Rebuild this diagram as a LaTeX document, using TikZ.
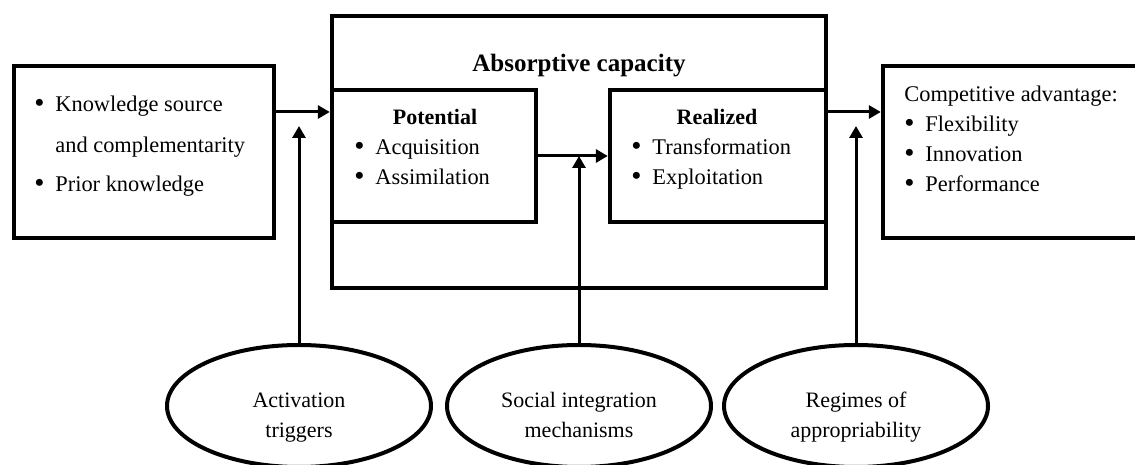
\documentclass[tikz,border=0pt]{standalone}
\usepackage{fontspec}
\setmainfont{Liberation Serif}
\usetikzlibrary{arrows.meta,positioning,calc,shapes.geometric}

\newcommand{\blt}{\makebox[10.5pt][l]{\raisebox{-0.3pt}{\scalebox{1.3}{\textbullet}}}}

\begin{document}
\begin{tikzpicture}[
  x=0.5pt, y=0.5pt,
  blk/.style={
    rectangle,
    draw=black,
    line width=2.2pt,
    inner sep=0pt
  },
  txt/.style={
    align=left,
    inner sep=0pt,
    font=\fontsize{11.2}{15}\selectfont
  },
  hd/.style={
    inner sep=0pt,
    font=\fontsize{11}{13}\selectfont\bfseries
  },
  oval/.style={
    ellipse,
    draw=black,
    line width=2pt,
    minimum width=132pt,
    minimum height=61pt,
    inner sep=0pt
  },
  ovtxt/.style={
    align=center,
    inner sep=0pt,
    font=\fontsize{11}{15}\selectfont
  },
  flow/.style={-{Triangle[length=6pt,width=6.5pt]}, line width=1.5pt}
]
\clip (0,0) rectangle (1135,465);

% boxes
\node[blk, minimum width=130pt, minimum height=86pt] (src) at (144,313) {};
\node[blk, minimum width=247pt, minimum height=136pt] (acap) at (579,313) {};
\node[blk, minimum width=102pt, minimum height=66pt] (pot) at (434,309) {};
\node[blk, minimum width=108pt, minimum height=66pt] (rea) at (718,309) {};
\node[blk, minimum width=140pt, minimum height=86pt] (adv) at (1023,313) {};

% box texts (base = last line)
\node[txt, anchor=base west] (srclist) at (34,273) {
\blt Knowledge source\\[5.5pt]
\hspace*{10.5pt}and complementarity\\[4.5pt]
\blt Prior knowledge
};
\node[hd, anchor=base, font=\fontsize{12.5}{14}\selectfont\bfseries] (acaplbl) at (579,393) {Absorptive capacity};
\node[hd, anchor=base] (potlbl) at (435,340) {Potential};
\node[txt, anchor=base west] (potlist) at (354,280) {
\blt Acquisition\\
\blt Assimilation
};
\node[hd, anchor=base] (realbl) at (717,340) {Realized};
\node[txt, anchor=base west] (realist) at (631,280) {
\blt Transformation\\
\blt Exploitation
};
\node[txt, anchor=base west] (advlist) at (904,273) {
Competitive advantage:\\
\blt Flexibility\\
\blt Innovation\\
\blt Performance
};

% ovals below
\node[oval] (trig) at (299,59) {};
\node[ovtxt, anchor=base] (triglbl) at (299,27) {Activation\\triggers};
\node[oval] (soc) at (579,59) {};
\node[ovtxt, anchor=base] (soclbl) at (579,27) {Social integration\\mechanisms};
\node[oval] (regm) at (856,59) {};
\node[ovtxt, anchor=base] (regmlbl) at (856,27) {Regimes of\\appropriability};

% arrows
\coordinate (reach) at (0,339);
\draw[flow] ([yshift=20pt]src.east) -- ([yshift=20pt]src.east -| pot.west);
\draw[flow] (pot.east) -- (rea.west);
\draw[flow] ([yshift=20pt]acap.east) -- ([yshift=20pt]acap.east -| adv.west);
\draw[flow] (trig.north) -- (trig.north |- reach);
\draw[flow] (soc.north) -- (soc.north |- pot.east);
\draw[flow] (regm.north) -- (regm.north |- reach);

\end{tikzpicture}
\end{document}
